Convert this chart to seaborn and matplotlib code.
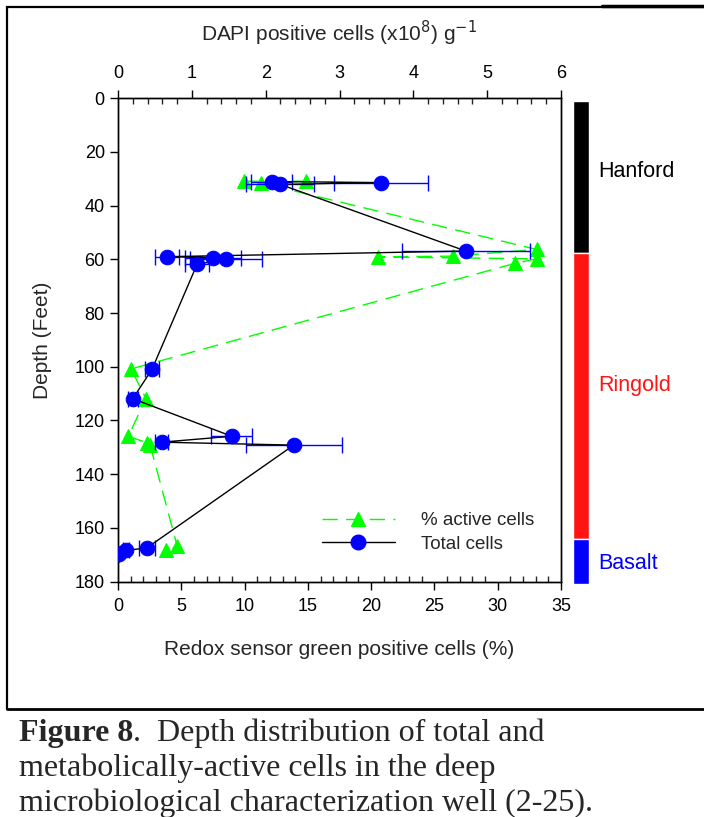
import numpy as np
import pandas as pd
import matplotlib
matplotlib.use("Agg")
import matplotlib.pyplot as plt
from matplotlib.lines import Line2D
from matplotlib.ticker import MultipleLocator
import seaborn as sns

# ---- data ----
active_pct = [9.95, 14.83, 11.27, 33.07, 26.44, 20.51, 33.07, 31.36,
              1.03, 2.21, 0.81, 2.27, 2.53, 4.68, 3.79]
active_depth = [30.9, 30.9, 31.5, 56.3, 58.8, 59.1, 59.8, 61.5,
                100.8, 111.9, 125.9, 128.3, 129.0, 166.9, 168.4]

total_cells = [2.08, 3.56, 2.20, 4.71, 0.66, 1.29, 1.46, 1.07,
               0.46, 0.20, 1.54, 0.59, 2.38, 0.39, 0.11, 0.02]
total_err = [0.28, 0.64, 0.46, 0.87, 0.16, 0.38, 0.49, 0.16,
             0.09, 0.07, 0.28, 0.09, 0.65, 0.11, 0.04, 0.0]
total_depth = [31.0, 31.4, 32.1, 56.9, 59.0, 59.4, 59.8, 61.9,
               101.0, 111.9, 125.9, 128.1, 129.2, 167.5, 168.4, 169.6]

formations = ["Hanford", "Ringold", "Basalt"]
form_top = [1.0, 57.5, 164.0]
form_bottom = [57.5, 164.0, 181.0]
form_colors = ["#000000", "#FF1414", "#0000FF"]
form_label_depth = [27.1, 106.9, 173.2]

x_bottom_ticks = [0, 5, 10, 15, 20, 25, 30, 35]
x_top_ticks = [0, 1, 2, 3, 4, 5, 6]
y_ticks = [0, 20, 40, 60, 80, 100, 120, 140, 160, 180]

caption_lines = ["Depth distribution of total and",
                 "metabolically-active cells in the deep",
                 "microbiological characterization well (2-25)."]

# ---- style ----
sns.set_style("ticks")
plt.rcParams["font.family"] = ["Liberation Sans", "DejaVu Sans"]

W, H = 704, 817
fig = plt.figure(figsize=(W / 100, H / 100), dpi=100)

def fx(px):
    return px / W

def fy(py):
    return 1 - py / H

left, right, top, bottom = 118, 561, 98.3, 581.5
ax = fig.add_axes([fx(left), fy(bottom), fx(right) - fx(left), fy(top) - fy(bottom)])

df_a = pd.DataFrame({"pct": active_pct, "depth": active_depth})
df_t = pd.DataFrame({"cells": total_cells, "err": total_err, "depth": total_depth})

green = "#00FF00"
blue = "#0000FF"

sns.lineplot(data=df_a, x="pct", y="depth", sort=False, estimator=None, ax=ax,
             color=green, lw=1.0, dashes=False, marker="^", markersize=10.5,
             markeredgecolor=green, markerfacecolor=green, zorder=2)
for l in ax.get_lines():
    l.set_dashes([11, 6])

ax.set_xlim(0, 35)
ax.set_ylim(180, 0)
ax.set_xticks(x_bottom_ticks)
ax.set_yticks(y_ticks)
ax.xaxis.set_minor_locator(MultipleLocator(1))
ax.tick_params(axis="both", which="major", direction="out", length=6, width=1,
               labelsize=13, colors="black")
ax.tick_params(axis="x", which="major", pad=6)
ax.tick_params(axis="x", which="minor", direction="in", length=4, width=1)
ax.tick_params(axis="y", which="minor", left=False)
ax.set_xlabel("Redox sensor green positive cells (%)", fontsize=15, labelpad=18)
ax.set_ylabel("Depth (Feet)", fontsize=15, labelpad=16)
for s in ax.spines.values():
    s.set_color("black")
    s.set_linewidth(1)

axt = ax.twiny()
axt.errorbar(df_t["cells"], df_t["depth"], xerr=df_t["err"], fmt="none",
             ecolor=blue, elinewidth=1, capsize=6, capthick=1, zorder=3)
sns.lineplot(data=df_t, x="cells", y="depth", sort=False, estimator=None, ax=axt,
             color="black", lw=1.0, marker="o", markersize=10.5,
             markeredgecolor=blue, markerfacecolor=blue, zorder=4)
axt.set_xlim(0, 6)
axt.set_ylim(180, 0)
axt.set_xticks(x_top_ticks)
axt.xaxis.set_minor_locator(MultipleLocator(0.2))
axt.tick_params(axis="x", which="major", direction="out", length=6, width=1,
                labelsize=13, colors="black", pad=6)
axt.tick_params(axis="x", which="minor", direction="in", length=4, width=1)
axt.set_xlabel("DAPI positive cells (x10$^{8}$) g$^{-1}$", fontsize=15, labelpad=17)
axt.set_ylabel("")
for s in axt.spines.values():
    s.set_color("black")
    s.set_linewidth(1)
if axt.get_legend():
    axt.get_legend().remove()

handles = [
    Line2D([], [], color=green, lw=1, dashes=[11, 6], marker="^", markersize=10.5,
           markerfacecolor=green, markeredgecolor=green),
    Line2D([], [], color="black", lw=1, marker="o", markersize=10.5,
           markerfacecolor=blue, markeredgecolor=blue),
]
axt.legend(handles, ["% active cells", "Total cells"], loc="lower left",
           bbox_to_anchor=(0.43, 0.032), frameon=False, fontsize=13.5,
           handlelength=3.9, handletextpad=1.4, labelspacing=0.35, numpoints=1,
           borderpad=0.2)

# lithology bar
axb = fig.add_axes([fx(573), fy(bottom), fx(589) - fx(573), fy(top) - fy(bottom)])
axb.bar([0] * len(formations),
        [b - t for t, b in zip(form_top, form_bottom)],
        bottom=form_top, color=form_colors, width=1.0, clip_on=False)
axb.set_xlim(-0.5, 0.5)
axb.set_ylim(180, 0)
axb.axis("off")
for name, d, c in zip(formations, form_label_depth, form_colors):
    axb.annotate(name, xy=(1, d), xycoords=("axes fraction", "data"),
                 xytext=(6.5, 0), textcoords="offset points",
                 ha="left", va="center", fontsize=15.5, color=c)

# frame lines (drawn as one L-shaped polyline plus the thicker top-right piece)
fig.add_artist(Line2D([fx(7), fx(7), fx(704)], [fy(709), fy(6.5), fy(6.5)],
                      color="black", lw=1.6, solid_joinstyle="miter", zorder=10))
fig.add_artist(Line2D([fx(602), fx(704)], [fy(6), fy(6)], color="black", lw=2.5,
                      zorder=10))
fig.add_artist(Line2D([fx(7), fx(704)], [fy(709), fy(709)], color="black", lw=2))

# caption
serif = ["Liberation Serif", "DejaVu Serif"]
cap_fs = 23
t0 = fig.text(fx(19), fy(741), "Figure 8", fontsize=cap_fs, fontweight="bold",
              family=serif, va="baseline", ha="left")
fig.canvas.draw()
bb = t0.get_window_extent()
fig.text(bb.x1 / W, fy(741), ".  " + caption_lines[0], fontsize=cap_fs,
         family=serif, va="baseline", ha="left")
fig.text(fx(19), fy(776), caption_lines[1], fontsize=cap_fs, family=serif,
         va="baseline", ha="left")
fig.text(fx(19), fy(811), caption_lines[2], fontsize=cap_fs, family=serif,
         va="baseline", ha="left")

fig.savefig("out.png", dpi=100)
